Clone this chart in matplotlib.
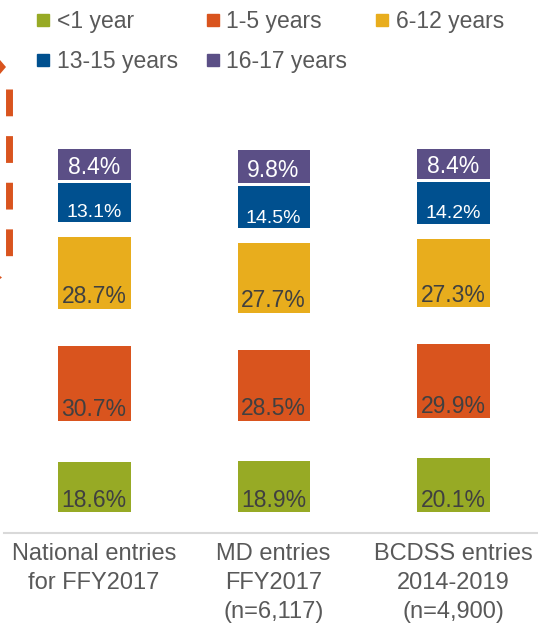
import matplotlib
matplotlib.use("Agg")
import matplotlib.pyplot as plt
from matplotlib.lines import Line2D
from matplotlib.patches import Polygon
import numpy as np

# data (percent of entries by age at entry)
categories = ["National entries\nfor FFY2017",
              "MD entries\nFFY2017\n(n=6,117)",
              "BCDSS entries\n2014-2019\n(n=4,900)"]
age_groups = ["<1 year", "1-5 years", "6-12 years", "13-15 years", "16-17 years"]
under_1 = [18.6, 18.9, 20.1]
age_1_5 = [30.7, 28.5, 29.9]
age_6_12 = [28.7, 27.7, 27.3]
age_13_15 = [13.1, 14.5, 14.2]
age_16_17 = [8.4, 9.8, 8.4]

series = [under_1, age_1_5, age_6_12, age_13_15, age_16_17]
colors = ["#97AA25", "#D9541E", "#E8AD1D", "#00508F", "#5B4F86"]
label_colors = ["#404040", "#404040", "#404040", "white", "white"]
label_sizes = [16.5, 16.5, 16.5, 14, 16.5]
# white space left below each segment (spacing of the exploded stack)
seg_space = [13.5, 26.0, 24.5, 13.7, 7.9]

W, H, DPI = 538, 625, 100
plt.rcParams["font.family"] = ["Liberation Sans", "DejaVu Sans"]

fig = plt.figure(figsize=(W / DPI, H / DPI), dpi=DPI)
ax = fig.add_axes([4 / W, 92 / H, 534 / W, 393 / H])

x = np.arange(len(categories))
edge_pt = 13 * 72 / DPI
bottom = np.zeros(len(categories))
for i, vals in enumerate(series):
    vals = np.array(vals)
    bottom = bottom + seg_space[i]
    ax.bar(x, vals, bottom=bottom, width=0.329, color=colors[i],
           edgecolor=colors[i], linewidth=edge_pt, joinstyle="miter",
           label=age_groups[i])
    for xi, b, v in zip(x, bottom, vals):
        ax.annotate(f"{v:.1f}%", (xi, b), xytext=(0, -1),
                    textcoords="offset points", ha="center", va="baseline",
                    fontsize=label_sizes[i], color=label_colors[i])
    bottom = bottom + vals

ax.set_ylim(0, 393 / 2.04)
ax.set_xlim(-90 / 179.5, 2 + 85 / 179.5)
ax.set_yticks([])
ax.set_xticks(x)
ax.set_xticklabels(categories, fontsize=17, color="#595959", linespacing=1.39)
ax.tick_params(axis="x", length=0, pad=7.5)
for side in ["top", "left", "right"]:
    ax.spines[side].set_visible(False)
ax.spines["bottom"].set_color("#D9D9D9")
ax.spines["bottom"].set_linewidth(1.5)

# legend, reordered so rows read across like the reference
handles = [Line2D([], [], marker="s", linestyle="none", markersize=8.6,
                  markerfacecolor=c, markeredgecolor=c) for c in colors]
order = [0, 3, 1, 4, 2]
fig.legend([handles[k] for k in order], [age_groups[k] for k in order],
           loc="upper left", bbox_to_anchor=(36 / W, 1 - 10 / H), ncol=3,
           frameon=False, fontsize=16.5, labelcolor="#595959",
           handlelength=0.6, handletextpad=0.3, columnspacing=1.22,
           labelspacing=0.73, borderpad=0, borderaxespad=0)

# dashed orange arrow running off the left edge
orange = "#D9541E"
fig.add_artist(Line2D([8.5 / W, 8.5 / W], [1 - 89 / H, 1 - 257 / H],
                      transform=fig.transFigure, color=orange, linewidth=5.0,
                      dashes=(27 / 7, 20 / 7), solid_capstyle="butt",
                      dash_capstyle="butt"))
fig.add_artist(Polygon([(0, 1 - 60 / H), (6 / W, 1 - 67 / H), (0, 1 - 74 / H)],
                       closed=True, transform=fig.transFigure,
                       facecolor=orange, edgecolor="none"))
fig.add_artist(Polygon([(0, 1 - 276 / H), (2 / W, 1 - 277.5 / H), (0, 1 - 279 / H)],
                       closed=True, transform=fig.transFigure,
                       facecolor=orange, edgecolor="none"))

fig.savefig("out.png", dpi=DPI)
